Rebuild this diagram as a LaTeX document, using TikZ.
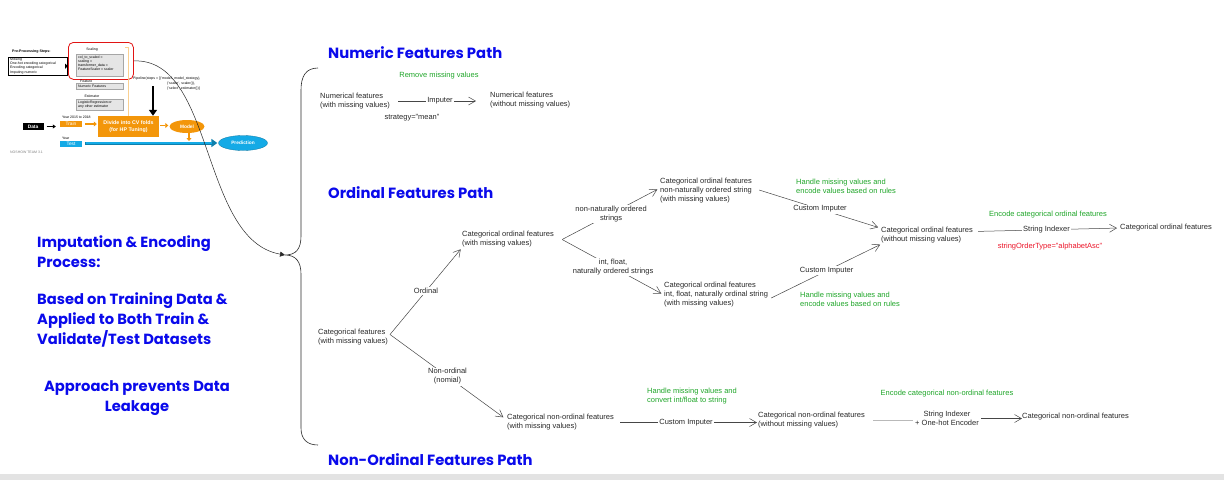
\documentclass[tikz,border=0pt]{standalone}
\usepackage{fontspec}
\setmainfont{Liberation Sans}
\newfontfamily\popfont{Poppins}
\usetikzlibrary{arrows.meta,calc,shapes.geometric}
\definecolor{hblue}{RGB}{10,10,235}
\definecolor{hgreen}{RGB}{30,165,40}
\definecolor{hred}{RGB}{235,20,40}
\definecolor{ink}{RGB}{40,40,40}
\definecolor{lineg}{RGB}{70,70,70}
\definecolor{tor}{RGB}{243,150,10}
\definecolor{tcy}{RGB}{20,170,230}
\definecolor{tred}{RGB}{225,20,20}
\begin{document}
\begin{tikzpicture}[x=1pt,y=-1pt,
  txt/.style={inner sep=0pt,anchor=west,align=left,font=\fontsize{7.5}{9}\selectfont,text=ink},
  ctxt/.style={inner sep=0pt,align=center,font=\fontsize{7.5}{9}\selectfont,text=ink},
  gtxt/.style={txt,text=hgreen},
  heading/.style={inner sep=0pt,anchor=west,font=\popfont\bfseries\fontsize{14.8}{17}\selectfont,text=hblue},
  lefttxt/.style={inner sep=0pt,anchor=west,align=left,font=\popfont\bfseries\fontsize{14.7}{20}\selectfont,text=hblue},
  arr/.style={draw=lineg,line width=0.5pt,-{Straight Barb[length=7pt,width=8pt,line width=0.5pt]}},
  lbl/.style={ctxt,fill=white,inner sep=1pt},
  tt/.style={inner sep=0pt,anchor=west,align=left,font=\fontsize{3.5}{4.1}\selectfont,text=black},
  gbox/.style={draw=gray!70,fill=gray!20,line width=0.4pt,inner sep=0pt,anchor=north west},
  wbox/.style={inner sep=0pt,text=white,font=\fontsize{4.8}{5.5}\selectfont}
]
\useasboundingbox (0,0) rectangle (1224,480);
\fill[gray!22] (0,474) rectangle (1224,480);

% ---------- thumbnail ----------
\node[tt,font=\bfseries\fontsize{3.6}{4.2}\selectfont] (pps) at (12,52) {Pre-Processing Steps:};
\node[draw=black,line width=0.3pt,anchor=north west,minimum width=59pt,minimum height=18pt,inner sep=0pt] (ppbox) at (8,57) {};
\node[tt,anchor=north west] (pptext) at (10,58) {Missing\\One-hot encoding categorical\\Encoding categorical\\Imputing numeric};
\node[draw=tred,rounded corners=5pt,line width=0.8pt,anchor=north west,minimum width=65pt,minimum height=37pt,inner sep=0pt] (redbox) at (68,42) {};
\draw[line width=1.4pt,-{Triangle[length=3pt,width=5pt]}] (ppbox.east) -- (redbox.west |- ppbox.east);
\node[tt,anchor=center] (scl) at (92,49.5) {Scaling};
\node[gbox,minimum width=47pt,minimum height=22pt] (sbox) at (76,54) {};
\node[tt,anchor=north west] (stext) at (78,55.5) {col\_to\_scaled =\\scaling =\\transformer\_data =\\FeatureScaler = scaler};
\node[tt] (feat) at (80,81) {Feature};
\node[gbox,minimum width=47pt,minimum height=6pt] (fbox) at (76,83) {};
\node[tt] (ftext) at (78,86) {Numeric Features};
\node[tt,anchor=center] (est) at (92,96) {Estimator};
\node[gbox,minimum width=47pt,minimum height=11pt] (ebox) at (76,99) {};
\node[tt,anchor=north west] (etext) at (78,100.5) {LogisticRegression or\\any other estimator};
\draw[tor!45,line width=0.4pt] (125,47) -- (128,47) -- (128,116) -- (125,116);
\node[tt] (pipe1) at (133,79) {Pipeline(steps = [('model', model\_strategy),};
\node[tt] (pipe2) at (167,84) {('scaler', scaler()),};
\node[tt] (pipe3) at (167,89) {('select', estimator())]};
\node[fill=black,wbox,font=\bfseries\fontsize{4.8}{5.5}\selectfont,minimum width=21pt,minimum height=7pt] (data) at (33,126.5) {Data};
\node[tt] (yr1) at (62,117.5) {Year 2015 to 2018};
\node[fill=tor,wbox,minimum width=22pt,minimum height=6.5pt] (train) at (71,124) {Train};
\node[fill=tor,wbox,font=\bfseries\fontsize{5.3}{6.3}\selectfont,align=center,minimum width=61pt,minimum height=21pt] (divide) at (128.5,126.5) {Divide into CV folds\\(for HP Tuning)};
\node[ellipse,fill=tor,wbox,font=\bfseries\fontsize{4.8}{5.5}\selectfont,minimum width=35pt,minimum height=13pt] (model) at (187,126.5) {Model};
\node[tt] (yr2) at (62,138) {Year};
\node[fill=tcy,wbox,minimum width=22pt,minimum height=6.5pt] (test) at (71,144) {Test};
\node[ellipse,fill=tcy,draw=tcy!70!black,line width=0.3pt,wbox,font=\bfseries\fontsize{4.8}{5.5}\selectfont,minimum width=49pt,minimum height=15pt] (pred) at (243,143) {Prediction};
\node[tt,text=gray] (team) at (10,152.5) {NOSHOW TEAM 3.1};
\coordinate (bigA) at (153,86);
\draw[line width=2.6pt,-{Triangle[length=6pt,width=8pt]}] (bigA) -- (bigA |- divide.north);
\draw[line width=1pt,-{Triangle[length=3pt,width=4pt]}] ($(data.east)+(3,0)$) -- ($(train.west |- data.east)+(-4,0)$);
\draw[tor,line width=1.6pt,-{Triangle[length=3pt,width=5pt]}] ($(train.east)+(3,0)$) -- ($(divide.west |- train.east)+(-1,0)$);
\draw[tor,line width=1.6pt,-{Triangle[length=3pt,width=5pt]}] ($(divide.east)+(1,-1)$) -- ($(model.west)+(-1,-1)$);
\coordinate (mb) at (189,141);
\draw[tor,line width=1.2pt,-{Triangle[length=3pt,width=5pt]}] (model.south -| mb) -- (mb);
\draw[tcy!75!black,line width=3pt,-{Triangle[length=6pt,width=8pt]}] ($(test.east)+(3,-1)$) -- ($(pred.west)+(-1,0)$);
\draw[tcy,line width=2pt,shorten >=5pt] ($(test.east)+(3.5,-1)$) -- ($(pred.west)+(-1,0)$);

% ---------- brace and link ----------
\coordinate (btip) at (285,255);
\draw[ink,line width=0.6pt] (318,68) .. controls (306,68) and (301,76) .. (301,90) -- (301,236) .. controls (301,249) and (296,255) .. (btip) .. controls (296,255) and (301,262) .. (301,274) -- (301,428) .. controls (301,439) and (307,445) .. (318,445);
\draw[ink,line width=0.5pt,-{Triangle[length=5pt,width=5pt]}] (redbox.east) .. controls (215,58) and (200,240) .. (btip);

% ---------- left text ----------
\node[lefttxt] (la) at (37,252) {Imputation \& Encoding\\Process:};
\node[lefttxt] (lb) at (37,320) {Based on Training Data \&\\Applied to Both Train \&\\Validate/Test Datasets};
\node[lefttxt,align=center,anchor=center] (lc) at (137,398) {Approach prevents Data\\Leakage};

% ---------- headings ----------
\node[heading] (hnum) at (328,53) {Numeric Features Path};
\node[heading] (hord) at (328,193) {Ordinal Features Path};
\node[heading] (hnon) at (328,460) {Non-Ordinal Features Path};

% ---------- numeric ----------
\node[gtxt,anchor=center] (gnum) at (439,76) {Remove missing values};
\node[txt] (numw) at (320,101) {Numerical features\\(with missing values)};
\node[txt] (numo) at (490,100) {Numerical features\\(without missing values)};
\draw[arr,shorten <=8pt,shorten >=14pt] (numw.east) -- node[lbl]{Imputer} (numw.east -| numo.west);
\node[ctxt] (strat) at (412,118) {strategy="mean"};

% ---------- ordinal ----------
\node[txt] (catf) at (318,337.5) {Categorical features\\(with missing values)};
\coordinate (s1) at ($(catf.east)+(2,-3)$);
\node[txt] (ordw) at (462,239.5) {Categorical ordinal features\\(with missing values)};
\draw[arr,shorten >=2pt] (s1) -- node[lbl]{Ordinal} (ordw.south west);
\node[txt] (nonw) at (507,422.5) {Categorical non-ordinal features\\(with missing values)};
\draw[arr,shorten >=2pt] (s1) -- node[lbl]{Non-ordinal\\(nomial)} ($(nonw.west)+(-2,-4)$);

\coordinate (s2) at ($(ordw.east)+(8,0)$);
\node[txt] (oup) at (660,191) {Categorical ordinal features\\non-naturally ordered string\\(with missing values)};
\node[txt] (olo) at (664,295) {Categorical ordinal features\\int, float, naturally ordinal string\\(with missing values)};
\draw[arr,shorten >=3pt] (s2) -- node[lbl]{non-naturally ordered\\strings} ($(oup.west)+(0,-3)$);
\draw[arr,shorten >=3pt] (s2) -- node[lbl]{int, float,\\naturally ordered strings} (olo.west);

\node[txt] (ocen) at (881,235.5) {Categorical ordinal features\\(without missing values)};
\draw[arr,shorten >=3pt] ($(oup.east)+(7,-1)$) -- node[lbl]{Custom Imputer} ($(ocen.north west)+(0,1)$);
\draw[arr,shorten >=2pt] ($(olo.east)+(3,3)$) -- node[lbl]{Custom Imputer} ($(ocen.south west)+(1,0)$);
\node[gtxt] (gup) at (796,186.5) {Handle missing values and\\encode values based on rules};
\node[gtxt] (glo) at (800,299.5) {Handle missing values and\\encode values based on rules};

\node[txt] (ofin) at (1120,228) {Categorical ordinal features};
\draw[arr,shorten <=5pt,shorten >=3pt] ($(ocen.east)+(0,-4)$) -- node[lbl]{String Indexer} (ofin.west);
\node[gtxt,anchor=center] (genc) at (1048,215) {Encode categorical ordinal features};
\node[ctxt,text=hred] (sot) at (1050,247) {stringOrderType="alphabetAsc"};

% ---------- non-ordinal ----------
\node[txt] (nono) at (758,420.5) {Categorical non-ordinal features\\(without missing values)};
\draw[arr,shorten <=6pt,shorten >=1pt] (nonw.east) -- node[lbl]{Custom Imputer} (nonw.east -| nono.west);
\node[gtxt] (gnon) at (647,396.5) {Handle missing values and\\convert int/float to string};
\node[ctxt] (enc) at (947,418.5) {String Indexer\\+ One-hot Encoder};
\draw[gray!55,line width=0.8pt,shorten <=8pt,shorten >=2pt] (nono.east) -- (nono.east -| enc.west);
\node[txt] (nfin) at (1022,417) {Categorical non-ordinal features};
\draw[arr,shorten <=2pt] (enc.east) -- (enc.east -| nfin.west);
\node[gtxt,anchor=center] (gnenc) at (947,394) {Encode categorical non-ordinal features};
\end{tikzpicture}
\end{document}
